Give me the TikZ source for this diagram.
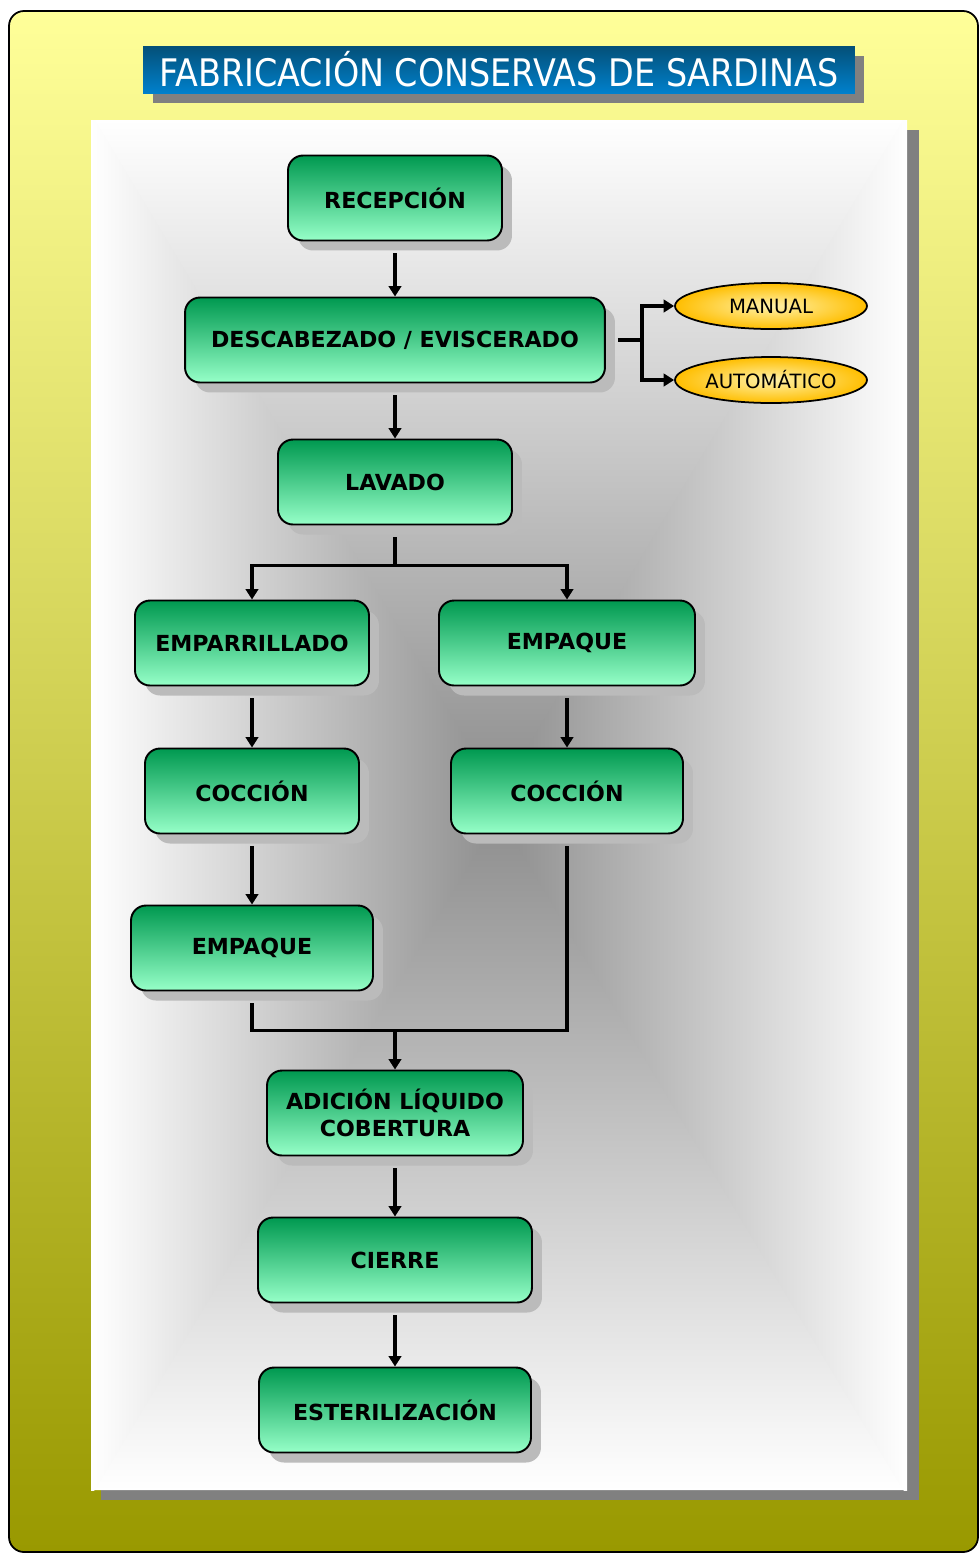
\documentclass[tikz,border=0pt]{standalone}
\usepackage{fontspec}
\setmainfont{DejaVu Sans}
\newfontfamily\titlefont[FakeStretch=0.88]{DejaVu Sans}
\usetikzlibrary{arrows.meta,shadows,shapes.geometric}

\definecolor{framehi}{RGB}{255,255,153}
\definecolor{framelo}{RGB}{153,153,0}
\definecolor{titlehi}{RGB}{4,80,120}
\definecolor{titlelo}{RGB}{0,128,204}
\definecolor{boxhi}{RGB}{0,153,80}
\definecolor{boxlo}{RGB}{150,255,200}
\definecolor{boxshade}{RGB}{187,187,187}
\definecolor{opthi}{RGB}{255,242,170}
\definecolor{optlo}{RGB}{255,190,0}

\tikzset{
  stepbox/.style={draw,line width=1.1pt,rounded corners=0.3cm,top color=boxhi,bottom color=boxlo,
    minimum height=1.7cm,inner sep=0pt,align=center,font=\bfseries\fontsize{12.6}{15.5}\selectfont,
    drop shadow={shadow xshift=0.2cm,shadow yshift=-0.2cm,fill=boxshade,opacity=1}},
  optbox/.style={ellipse,draw,line width=1pt,inner color=opthi,outer color=optlo,
    minimum width=3.84cm,minimum height=0.92cm,inner sep=0pt,font=\fontsize{11.2}{12}\selectfont},
  titlebox/.style={top color=titlehi,bottom color=titlelo,text=white,minimum width=14.24cm,
    minimum height=0.94cm,inner sep=0pt,font=\titlefont\fontsize{21.6}{24}\selectfont,
    drop shadow={shadow xshift=0.19cm,shadow yshift=-0.2cm,fill=gray,opacity=1}},
  link/.style={line width=2.1pt},
  flow/.style={link,-{Triangle[length=0.21cm,width=0.25cm]}},
  from box/.style={shorten <=0.24cm}
}

\begin{document}
\begin{tikzpicture}[x=0.02cm,y=-0.02cm]
\useasboundingbox (0,0) rectangle (980,1553);
% frame and panel
\draw[line width=1pt,rounded corners=0.3cm,top color=framehi,bottom color=framelo] (9,11) rectangle (978,1552);
\fill[gray] (101,130) rectangle (919,1500);
\begin{scope}
\clip (91,120) rectangle (907,1490);
\shade[top color=white,bottom color=black!45] (91,120) -- (907,120) -- (499,805) -- cycle;
\shade[top color=black!45,bottom color=white] (91,1490) -- (907,1490) -- (499,805) -- cycle;
% side parts overlap the diagonals a little
\shade[left color=white,right color=black!45] (91,114) -- (91,1496) -- (505,805) -- cycle;
\shade[left color=black!45,right color=white] (907,114) -- (907,1496) -- (493,805) -- cycle;
\end{scope}

\node[titlebox] (title) at (499,69.5) {FABRICACIÓN CONSERVAS DE SARDINAS};

% process steps
\node[stepbox,minimum width=4.28cm] (recep) at (395,198) {RECEPCIÓN};
\node[stepbox,minimum width=8.4cm] (desc) at (395,340) {DESCABEZADO / EVISCERADO};
\node[stepbox,minimum width=4.68cm] (lavado) at (395,482) {LAVADO};
\node[stepbox,minimum width=4.68cm] (emparr) at (252,643) {EMPARRILLADO};
\node[stepbox,minimum width=5.12cm] (empaqR) at (567,643) {EMPAQUE};
\node[stepbox,minimum width=4.28cm] (coccL) at (252,791) {COCCIÓN};
\node[stepbox,minimum width=4.64cm] (coccR) at (567,791) {COCCIÓN};
\node[stepbox,minimum width=4.84cm] (empaqL) at (252,948) {EMPAQUE};
\node[stepbox,minimum width=5.12cm] (adic) at (395,1113) {ADICIÓN LÍQUIDO\\COBERTURA};
\node[stepbox,minimum width=5.48cm] (cierre) at (395,1260) {CIERRE};
\node[stepbox,minimum width=5.44cm] (ester) at (395,1410) {ESTERILIZACIÓN};

\node[optbox] (manual) at (771,306) {MANUAL};
\node[optbox] (auto) at (771,380) {AUTOMÁTICO};

% connectors
\foreach \a/\b in {recep/desc,desc/lavado,emparr/coccL,empaqR/coccR,coccL/empaqL,adic/cierre,cierre/ester}
  \draw[flow,from box] (\a.south) -- (\a.south |- \b.north);

\coordinate (fork) at ([xshift=0.72cm]desc.east);
\draw[link,from box] (desc.east) -- (fork);
\draw[flow] (fork) |- (manual.west);
\draw[flow] (fork) |- (auto.west);

\coordinate (split) at ([yshift=-0.8cm]lavado.south);
\draw[link,from box] (lavado.south) -- (split);
\draw[flow] (split) -| (emparr.north);
\draw[flow] (split) -| (empaqR.north);

\coordinate (join) at ([yshift=0.78cm]adic.north);
\draw[link,from box] (empaqL.south) |- (join);
\draw[link,from box] (coccR.south) |- (join);
\draw[flow] (join) -- (adic.north);
\end{tikzpicture}
\end{document}
